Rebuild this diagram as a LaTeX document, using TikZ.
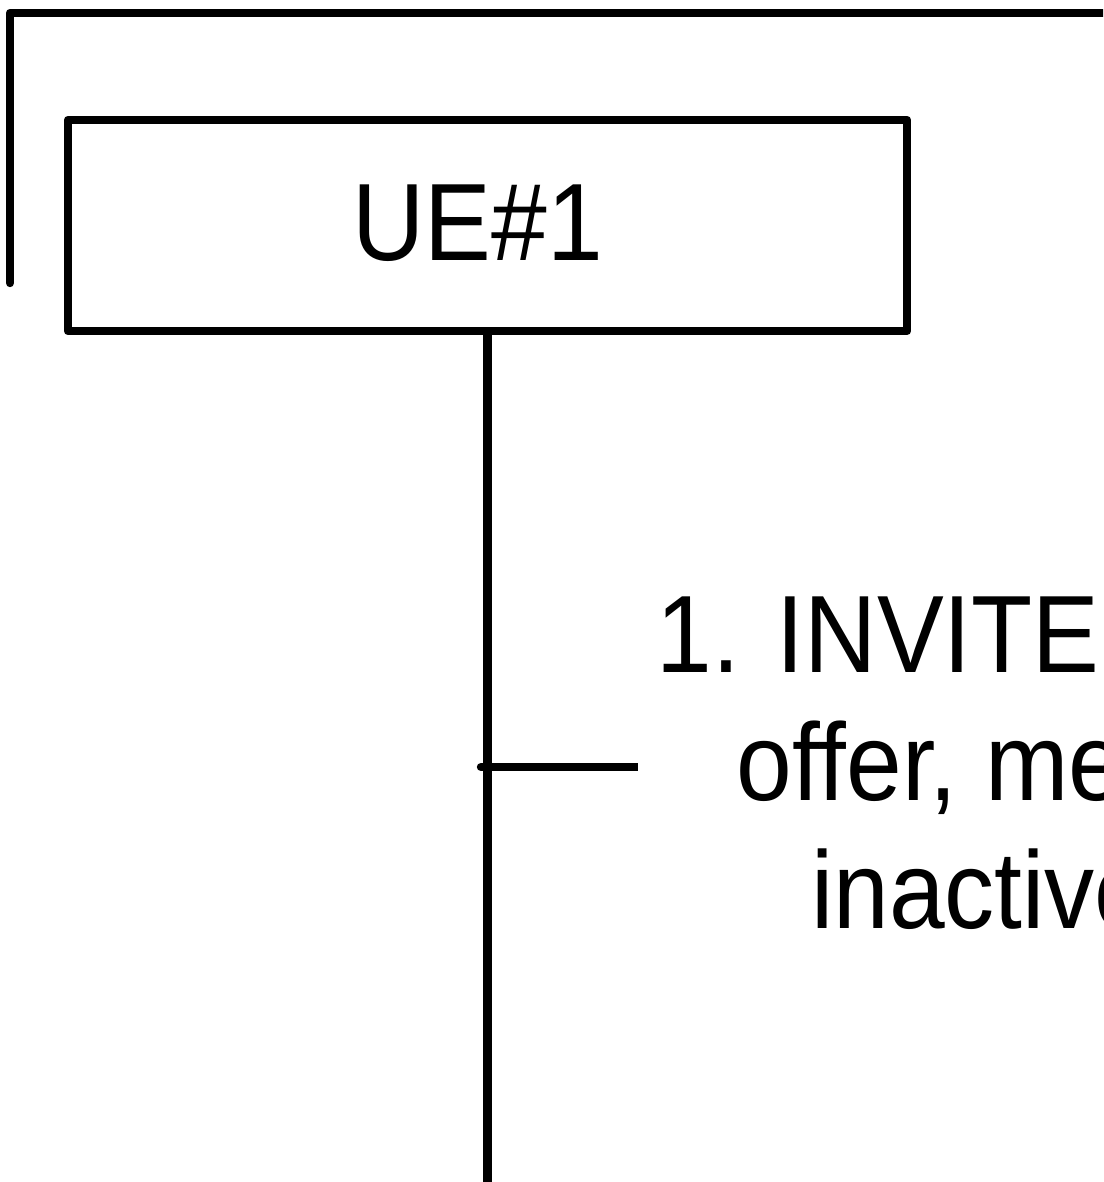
\documentclass[tikz,border=0pt]{standalone}
\usepackage{fontspec}
\setmainfont{Liberation Sans}[FakeStretch=0.91]
\usetikzlibrary{positioning}

\tikzset{
  seqline/.style={line width=4.2pt,line cap=round,line join=round},
  entitybox/.style={draw,seqline,rectangle,minimum width=419.5pt,minimum height=105.5pt,
    inner sep=0pt,outer sep=0pt,text height=39.5pt,text depth=5pt,
    font=\fontsize{55}{64}\selectfont},
  msglabel/.style={fill=white,align=center,inner xsep=9pt,inner ysep=5pt,
    font=\fontsize{55}{64}\selectfont}
}

\begin{document}
\begin{tikzpicture}[x=0.5pt,y=-0.5pt]
\useasboundingbox (0,0) rectangle (1103,1182);
\clip (0,0) rectangle (1103,1182);
% frame
\draw[seqline] (10,283) -- (10,13) -- (1130,13);
% UE#1 and its lifeline
\node[entitybox] (ue1) at (487.5,225.5) {UE\#1\hspace*{10pt}};
\coordinate (ue1end) at (487.5,1200);
\draw[seqline,line cap=butt] (ue1.south) -- (ue1end);
% message 1
\coordinate (msg1start) at (481,767);
\coordinate (msg1end) at (1130,767);
\draw[seqline] (msg1start) -- (msg1end);
\node[msglabel,anchor=west] (msg1) at (638,772) {1. INVITE(SDP\\offer, media\\inactive)};
\end{tikzpicture}
\end{document}
